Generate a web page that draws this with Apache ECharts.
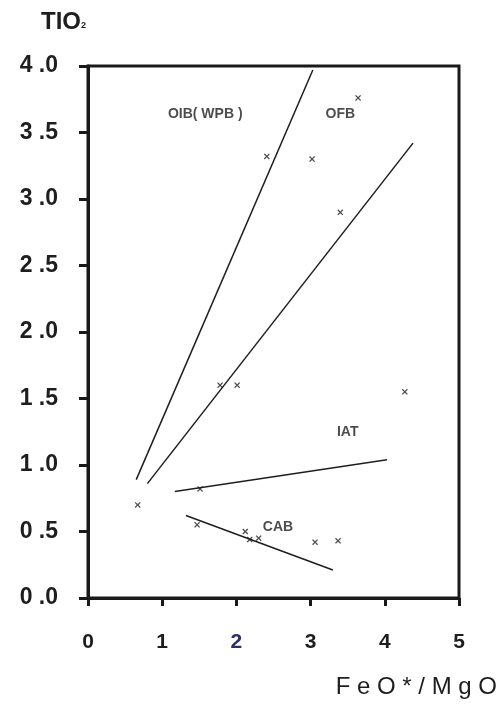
<!DOCTYPE html>
<html>
<head>
<meta charset="utf-8">
<script src="https://cdn.jsdelivr.net/npm/echarts@6/dist/echarts.min.js"></script>
<style>
  html, body { margin: 0; padding: 0; background: #fff; }
  #chart { width: 503px; height: 712px; }
</style>
</head>
<body>
<div id="chart"></div>
<script>
"use strict";

// ── Datos ────────────────────────────────────────────────────────────────
const xTicks = [0, 1, 2, 3, 4, 5];
const yTicks = [0, 0.5, 1, 1.5, 2, 2.5, 3, 3.5, 4];

// líneas de discriminación (inicio, fin)
const lineOibOfb = [[0.65, 0.89], [3.03, 3.97]];
const lineOfbIat = [[0.80, 0.86], [4.38, 3.42]];
const lineIat    = [[1.17, 0.80], [4.03, 1.04]];
const lineCab    = [[1.32, 0.62], [3.30, 0.21]];

// muestras
const samplesX = [0.67, 1.51, 1.47, 2.12, 2.18, 2.30, 3.06, 3.37, 1.78, 2.01, 4.27, 2.41, 3.02, 3.40, 3.64];
const samplesY = [0.70, 0.82, 0.55, 0.50, 0.44, 0.45, 0.42, 0.43, 1.60, 1.60, 1.55, 3.32, 3.30, 2.90, 3.76];

// rótulos de campos
const fieldNames = ["OIB( WPB )", "OFB", "IAT", "CAB"];
const fieldX     = [1.58, 3.40, 3.50, 2.56];
const fieldY     = [3.64, 3.64, 1.25, 0.53];

// ── Gráfico ──────────────────────────────────────────────────────────────
const INK = "#1a1a1a";
const FONT = "'Liberation Sans', Arial, sans-serif";
const CROSS = "path://M0,1.5L1.5,0L5,3.5L8.5,0L10,1.5L6.5,5L10,8.5L8.5,10L5,6.5L1.5,10L0,8.5L3.5,5Z";

function lineSeries(pts) {
  return {
    type: "line",
    data: pts,
    symbol: "none",
    lineStyle: { color: "#1e1e1e", width: 1.5 },
    silent: true,
    z: 3,
  };
}

const chart = echarts.init(document.getElementById("chart"), null, { renderer: "canvas" });

chart.setOption({
  animation: false,
  grid: {
    left: 88, right: 44, top: 66, bottom: 114,
    show: true, borderColor: INK, borderWidth: 3, backgroundColor: "transparent",
  },
  xAxis: {
    type: "value",
    min: xTicks[0], max: xTicks[xTicks.length - 1], interval: 1,
    axisLine: { show: true, lineStyle: { color: INK, width: 3 } },
    axisTick: { show: true, length: 8, lineStyle: { color: INK, width: 3 } },
    splitLine: { show: false },
    axisLabel: {
      fontFamily: FONT, fontSize: 21, fontWeight: "bold", color: "#1e1e1e", margin: 34,
      formatter: v => (v === 2 ? "{blue|" + v + "}" : String(v)),
      rich: { blue: { fontFamily: FONT, fontSize: 21, fontWeight: "bold", color: "#2b2f6b" } },
    },
  },
  yAxis: {
    type: "value",
    min: yTicks[0], max: yTicks[yTicks.length - 1], interval: 0.5,
    axisLine: { show: true, lineStyle: { color: INK, width: 3 } },
    axisTick: { show: true, length: 9, lineStyle: { color: INK, width: 3 } },
    splitLine: { show: false },
    axisLabel: {
      fontFamily: FONT, fontSize: 23, fontWeight: "bold", color: "#1e1e1e", margin: 30,
      formatter: v => v.toFixed(1).replace(".", " ."),
    },
  },
  graphic: [
    {
      type: "text", left: 41, top: 10,
      style: {
        text: "TIO{sub|2}",
        font: "bold 24px " + FONT, fill: "#1e1e1e",
        rich: { sub: { fontSize: 9, fontWeight: "bold", fontFamily: FONT, fill: "#1e1e1e", padding: [8, 0, 0, 0] } },
      },
    },
    {
      type: "text", right: 6, top: 675,
      style: { text: "F e O * / M g O", font: "24px " + FONT, fill: "#1e1e1e" },
    },
  ],
  series: [
    lineSeries(lineOibOfb),
    lineSeries(lineOfbIat),
    lineSeries(lineIat),
    lineSeries(lineCab),
    {
      type: "scatter",
      data: samplesX.map((x, i) => [x, samplesY[i]]),
      symbol: CROSS,
      symbolSize: 6,
      itemStyle: { color: "#222" },
      z: 4,
    },
    {
      type: "scatter",
      data: fieldNames.map((n, i) => ({ name: n, value: [fieldX[i], fieldY[i]] })),
      symbolSize: 0,
      silent: true,
      label: {
        show: true, position: "inside",
        formatter: p => p.name,
        fontFamily: FONT, fontSize: 14, fontWeight: "bold", color: "#1e1e1e",
      },
      z: 5,
    },
  ],
});
</script>
</body>
</html>
